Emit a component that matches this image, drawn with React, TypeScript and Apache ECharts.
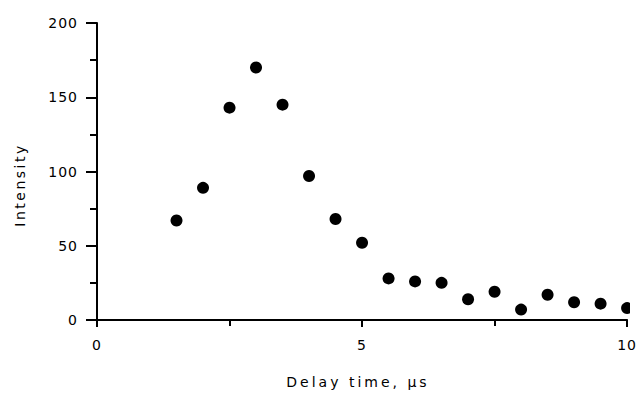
import React, { useEffect, useRef } from "react";
import * as echarts from "echarts";

const delayTimes = [1.5, 2, 2.5, 3, 3.5, 4, 4.5, 5, 5.5, 6, 6.5, 7, 7.5, 8, 8.5, 9, 9.5, 10];
const intensities = [67, 89, 143, 170, 145, 97, 68, 52, 28, 26, 25, 14, 19, 7, 17, 12, 11, 8];
const xTitle = "Delay time, µs";
const yTitle = "Intensity";

const FONT = "DejaVu Sans";

export default function App() {
  const ref = useRef<HTMLDivElement>(null);
  useEffect(() => {
    if (!ref.current) return;
    const chart = echarts.init(ref.current, undefined, { renderer: "svg" });
    const points = delayTimes.map((x, i) => [x, intensities[i]]);
    const axisCommon = {
      axisLine: { show: true, onZero: false, lineStyle: { color: "#000", width: 2 } },
      splitLine: { show: false },
      axisLabel: { color: "#000", fontFamily: FONT, fontSize: 14 },
    };
    const gridLeft = 97;
    const gridRight = 10;
    const gridTop = 23;
    const gridBottom = 74;
    chart.setOption({
      animation: false,
      backgroundColor: "#fff",
      grid: { left: gridLeft, right: gridRight, top: gridTop, bottom: gridBottom, containLabel: false },
      xAxis: {
        ...axisCommon,
        type: "value",
        min: 0,
        max: 10,
        interval: 5,
        axisTick: { show: true, length: 7, lineStyle: { color: "#000", width: 2 } },
        minorTick: { show: true, splitNumber: 2, length: 6, lineStyle: { color: "#000", width: 2 } },
        axisLabel: { ...axisCommon.axisLabel, margin: 18 },
        z: 10,
      },
      yAxis: {
        ...axisCommon,
        type: "value",
        min: 0,
        max: 200,
        interval: 50,
        axisTick: { show: true, length: 11, lineStyle: { color: "#000", width: 2 } },
        minorTick: { show: true, splitNumber: 2, length: 7, lineStyle: { color: "#000", width: 2 } },
        axisLabel: { ...axisCommon.axisLabel, margin: 19 },
      },
      series: [
        {
          type: "scatter",
          data: points,
          symbol: "circle",
          symbolSize: 12,
          itemStyle: { color: "#000", opacity: 1 },
          clip: true,
          z: 2,
        },
      ],
      graphic: [
        {
          type: "rect",
          z: 5,
          silent: true,
          shape: { x: 639 - gridRight + 1, y: 0, width: gridRight, height: 394 - gridBottom - 2 },
          style: { fill: "#fff" },
        },
        {
          type: "text",
          x: 358,
          y: 382,
          style: {
            text: xTitle,
            fill: "#000",
            font: `14px "${FONT}"`,
            textAlign: "center",
            textVerticalAlign: "middle",
          },
        },
        {
          type: "text",
          x: 20,
          y: 185,
          rotation: Math.PI / 2,
          style: {
            text: yTitle,
            fill: "#000",
            font: `14px "${FONT}"`,
            textAlign: "center",
            textVerticalAlign: "middle",
          },
        },
      ],
    });
    const texts = ref.current.querySelectorAll("text");
    texts.forEach((t) => {
      const c = t.textContent || "";
      if (c === xTitle) t.setAttribute("letter-spacing", "3");
      else if (c === yTitle) t.setAttribute("letter-spacing", "2.5");
      else t.setAttribute("letter-spacing", "1");
    });
    return () => chart.dispose();
  }, []);
  return <div ref={ref} style={{ width: 639, height: 394, position: "absolute", left: 0, top: 0 }} />;
}
